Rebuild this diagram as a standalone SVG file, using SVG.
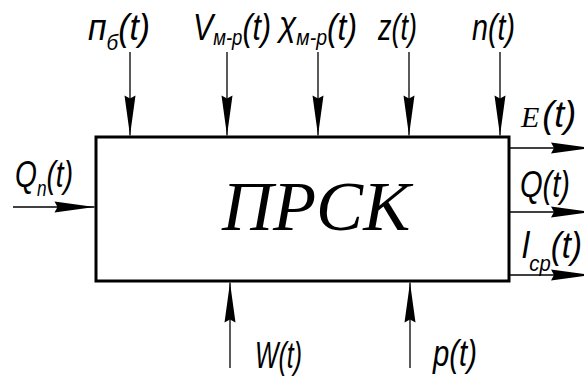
<svg xmlns="http://www.w3.org/2000/svg" width="584" height="377" viewBox="0 0 584 377">
<defs>
<marker id="ah" markerUnits="userSpaceOnUse" markerWidth="44" markerHeight="14" viewBox="-42 -7 44 14" refX="0" refY="0" orient="auto">
<path d="M0,0 L-40,-5.5 L-37,0 L-40,5.5 Z" fill="#000"/>
</marker>
<style>
.box{fill:#fff;stroke:#000;stroke-width:3}
.ar{stroke:#000;stroke-width:1.3;fill:none;marker-end:url(#ah)}
.lb{font-family:"Liberation Sans","DejaVu Sans",sans-serif;font-style:italic;font-size:36px;fill:#000}
.sb{font-size:22px}
.ser{font-family:"Liberation Serif","DejaVu Serif",serif;font-style:italic;fill:#000}
</style>
</defs>
<rect width="584" height="377" fill="#fff"/>
<g id="connectors">
<line class="ar" x1="130" y1="52" x2="130" y2="135.5"/>
<line class="ar" x1="227" y1="52" x2="227" y2="135.5"/>
<line class="ar" x1="318" y1="52" x2="318" y2="135.5"/>
<line class="ar" x1="409" y1="52" x2="409" y2="135.5"/>
<line class="ar" x1="500" y1="52" x2="500" y2="135.5"/>
<line class="ar" x1="13" y1="207" x2="94.5" y2="207"/>
<line class="ar" x1="230" y1="368" x2="230" y2="282.5"/>
<line class="ar" x1="410" y1="368" x2="410" y2="282.5"/>
<line class="ar" x1="510" y1="148" x2="591" y2="148"/>
<line class="ar" x1="510" y1="212" x2="591" y2="212"/>
<line class="ar" x1="510" y1="275" x2="591" y2="275"/>
</g>
<g id="prsk">
<rect class="box" x="96" y="137" width="413" height="144"/>
<text class="ser" x="222" y="230" font-size="70" textLength="188" lengthAdjust="spacingAndGlyphs">ПРСК</text>
</g>
<g id="in-nb"><text class="lb" x="88" y="40" textLength="62" lengthAdjust="spacingAndGlyphs">п<tspan class="sb" dy="10">б</tspan><tspan dy="-10">(t)</tspan></text></g>
<g id="in-v"><text class="lb" x="193" y="40" textLength="78" lengthAdjust="spacingAndGlyphs">V<tspan class="sb" dy="5">м-р</tspan><tspan dy="-5">(t)</tspan></text></g>
<g id="in-chi"><text class="lb" x="279" y="36" textLength="78" lengthAdjust="spacingAndGlyphs">χ<tspan class="sb" dy="9">м-р</tspan><tspan dy="-5">(t)</tspan></text></g>
<g id="in-z"><text class="lb" x="378" y="40" textLength="39" lengthAdjust="spacingAndGlyphs">z(t)</text></g>
<g id="in-n"><text class="lb" x="472" y="40" textLength="43" lengthAdjust="spacingAndGlyphs">n(t)</text></g>
<g id="in-qn"><text class="lb" x="15" y="187" textLength="58" lengthAdjust="spacingAndGlyphs">Q<tspan class="sb" dy="9">n</tspan><tspan dy="-9">(t)</tspan></text></g>
<g id="in-w"><text class="lb" x="255" y="368" textLength="47" lengthAdjust="spacingAndGlyphs">W(t)</text></g>
<g id="in-p"><text class="lb" x="433" y="366" textLength="44" lengthAdjust="spacingAndGlyphs">p(t)</text></g>
<g id="out-e"><text x="521" y="127"><tspan class="ser" font-size="30">E</tspan><tspan class="lb" font-size="31" dx="3">(t)</tspan></text></g>
<g id="out-q"><text class="lb" x="520" y="197" textLength="50" lengthAdjust="spacingAndGlyphs">Q(t)</text></g>
<g id="out-l"><text class="lb" x="522" y="258" textLength="60" lengthAdjust="spacingAndGlyphs">l<tspan class="sb" dy="13">cp</tspan><tspan dy="-13">(t)</tspan></text></g>
</svg>
